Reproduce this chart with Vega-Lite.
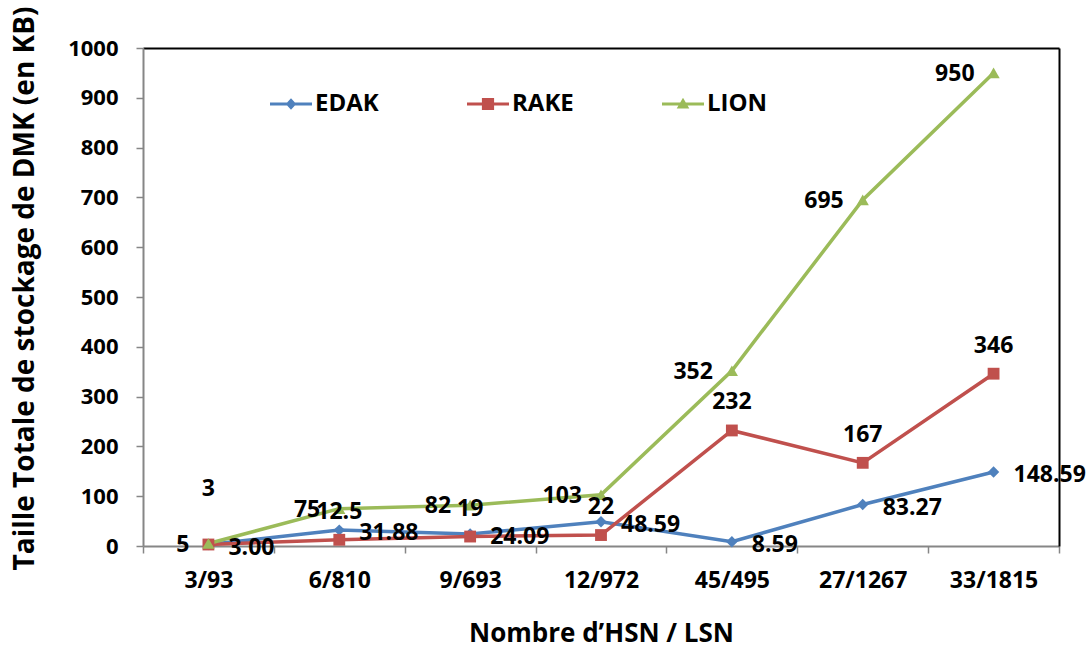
{
  "$schema": "https://vega.github.io/schema/vega-lite/v6.json",
  "width": 916,
  "height": 498,
  "autosize": {"type": "none"},
  "padding": {"left": 143, "top": 48, "right": 32, "bottom": 102},
  "background": "white",
  "config": {
    "view": {"stroke": null},
    "font": "Open Sans",
    "text": {"font": "Open Sans"}
  },
  "data": {
    "values": [
      {"hsn_lsn": "3/93", "method": "EDAK", "size_kb": 3.00},
      {"hsn_lsn": "6/810", "method": "EDAK", "size_kb": 31.88},
      {"hsn_lsn": "9/693", "method": "EDAK", "size_kb": 24.09},
      {"hsn_lsn": "12/972", "method": "EDAK", "size_kb": 48.59},
      {"hsn_lsn": "45/495", "method": "EDAK", "size_kb": 8.59},
      {"hsn_lsn": "27/1267", "method": "EDAK", "size_kb": 83.27},
      {"hsn_lsn": "33/1815", "method": "EDAK", "size_kb": 148.59},
      {"hsn_lsn": "3/93", "method": "RAKE", "size_kb": 3},
      {"hsn_lsn": "6/810", "method": "RAKE", "size_kb": 12.5},
      {"hsn_lsn": "9/693", "method": "RAKE", "size_kb": 19},
      {"hsn_lsn": "12/972", "method": "RAKE", "size_kb": 22},
      {"hsn_lsn": "45/495", "method": "RAKE", "size_kb": 232},
      {"hsn_lsn": "27/1267", "method": "RAKE", "size_kb": 167},
      {"hsn_lsn": "33/1815", "method": "RAKE", "size_kb": 346},
      {"hsn_lsn": "3/93", "method": "LION", "size_kb": 5},
      {"hsn_lsn": "6/810", "method": "LION", "size_kb": 75},
      {"hsn_lsn": "9/693", "method": "LION", "size_kb": 82},
      {"hsn_lsn": "12/972", "method": "LION", "size_kb": 103},
      {"hsn_lsn": "45/495", "method": "LION", "size_kb": 352},
      {"hsn_lsn": "27/1267", "method": "LION", "size_kb": 695},
      {"hsn_lsn": "33/1815", "method": "LION", "size_kb": 950}
    ]
  },
  "layer": [
    {
      "mark": {"type": "line", "strokeWidth": 3.5},
      "encoding": {
        "x": {
          "field": "hsn_lsn", "type": "ordinal",
          "sort": ["3/93", "6/810", "9/693", "12/972", "45/495", "27/1267", "33/1815"],
          "scale": {"type": "band", "paddingInner": 0, "paddingOuter": 0},
          "axis": {
            "orient": "bottom",
            "tickBand": "extent",
            "labelAngle": 0,
            "labelFontSize": 23,
            "labelFontWeight": "bold",
            "labelColor": "black",
            "labelPadding": 16,
            "tickSize": 7,
            "tickColor": "#868686",
            "tickWidth": 1.5,
            "domainColor": "#868686",
            "domainWidth": 2,
            "grid": false,
            "title": "Nombre d’HSN / LSN",
            "titleFontSize": 26,
            "titleFontWeight": "bold",
            "titleColor": "black",
            "titlePadding": 28
          }
        },
        "y": {
          "field": "size_kb", "type": "quantitative",
          "scale": {"domain": [0, 1000], "nice": false},
          "axis": {
            "orient": "left",
            "values": [0, 100, 200, 300, 400, 500, 600, 700, 800, 900, 1000],
            "format": "d",
            "labelFontSize": 22,
            "labelFontWeight": "bold",
            "labelColor": "black",
            "labelPadding": 18,
            "tickSize": 7,
            "tickColor": "#868686",
            "tickWidth": 1.5,
            "domainColor": "#868686",
            "domainWidth": 2,
            "grid": false,
            "title": "Taille Totale de stockage de DMK (en KB)",
            "titleFontSize": 28,
            "titleFontWeight": "bold",
            "titleColor": "black",
            "titlePadding": 28,
            "titleY": 240
          }
        },
        "color": {
          "field": "method", "type": "nominal",
          "scale": {"domain": ["EDAK", "RAKE", "LION"], "range": ["#4F81BD", "#C0504D", "#9BBB59"]},
          "legend": {
            "orient": "none",
            "legendX": 127,
            "legendY": 35,
            "direction": "horizontal",
            "title": null,
            "labelFont": "Open Sans",
            "labelFontSize": 24,
            "labelFontWeight": "bold",
            "labelColor": "black",
            "labelOffset": 3,
            "columnPadding": 88,
            "symbolSize": 1764,
            "symbolStrokeWidth": 0,
            "encode": {
              "symbols": {
                "update": {
                  "shape": {"signal": "datum.value === 'EDAK' ? 'M-1,-0.07H1V0.07H-1Z M0,-0.27L0.25,0L0,0.27L-0.25,0Z' : datum.value === 'RAKE' ? 'M-1,-0.07H1V0.07H-1Z M-0.29,-0.29H0.29V0.29H-0.29Z' : 'M-1,-0.07H1V0.07H-1Z M0,-0.3L0.3,0.22H-0.3Z'"},
                  "fill": {"signal": "scale('color', datum.value)"},
                  "stroke": {"value": "transparent"},
                  "opacity": {"value": 1}
                }
              }
            }
          }
        }
      }
    },
    {
      "transform": [{"filter": "datum.method === 'EDAK'"}],
      "mark": {"type": "point", "shape": "diamond", "filled": true, "opacity": 1, "size": 130, "color": "#4F81BD"},
      "encoding": {
        "x": {
          "field": "hsn_lsn", "type": "ordinal",
          "sort": ["3/93", "6/810", "9/693", "12/972", "45/495", "27/1267", "33/1815"],
          "axis": {"orient": "top", "labels": false, "ticks": false, "title": null, "grid": false, "domainColor": "black", "domainWidth": 2}
        },
        "y": {
          "field": "size_kb", "type": "quantitative",
          "axis": {"orient": "right", "labels": false, "ticks": false, "title": null, "grid": false, "domainColor": "black", "domainWidth": 2}
        }
      }
    },
    {
      "transform": [{"filter": "datum.method === 'RAKE'"}],
      "mark": {"type": "point", "shape": "square", "filled": true, "opacity": 1, "size": 140, "color": "#C0504D"},
      "encoding": {
        "x": {"field": "hsn_lsn", "type": "ordinal", "sort": ["3/93", "6/810", "9/693", "12/972", "45/495", "27/1267", "33/1815"], "axis": null},
        "y": {"field": "size_kb", "type": "quantitative", "axis": null}
      }
    },
    {
      "transform": [{"filter": "datum.method === 'LION'"}],
      "mark": {"type": "point", "shape": "triangle-up", "filled": true, "opacity": 1, "size": 150, "color": "#9BBB59"},
      "encoding": {
        "x": {"field": "hsn_lsn", "type": "ordinal", "sort": ["3/93", "6/810", "9/693", "12/972", "45/495", "27/1267", "33/1815"], "axis": null},
        "y": {"field": "size_kb", "type": "quantitative", "axis": null}
      }
    },
    {
      "transform": [{"filter": "datum.method === 'EDAK'"}],
      "mark": {"type": "text", "align": "left", "baseline": "middle", "dx": 20, "dy": 3, "fontSize": 23, "fontWeight": "bold", "color": "black"},
      "encoding": {
        "x": {"field": "hsn_lsn", "type": "ordinal", "sort": ["3/93", "6/810", "9/693", "12/972", "45/495", "27/1267", "33/1815"], "axis": null},
        "y": {"field": "size_kb", "type": "quantitative", "axis": null},
        "text": {"field": "size_kb", "type": "quantitative", "format": ".2f"}
      }
    },
    {
      "transform": [{"filter": "datum.method === 'RAKE' && datum.hsn_lsn !== '3/93'"}],
      "mark": {"type": "text", "align": "center", "baseline": "middle", "dy": -28, "fontSize": 23, "fontWeight": "bold", "color": "black"},
      "encoding": {
        "x": {"field": "hsn_lsn", "type": "ordinal", "sort": ["3/93", "6/810", "9/693", "12/972", "45/495", "27/1267", "33/1815"], "axis": null},
        "y": {"field": "size_kb", "type": "quantitative", "axis": null},
        "text": {"field": "size_kb", "type": "quantitative"}
      }
    },
    {
      "transform": [{"filter": "datum.method === 'RAKE' && datum.hsn_lsn === '3/93'"}],
      "mark": {"type": "text", "align": "center", "baseline": "middle", "dy": -56, "fontSize": 23, "fontWeight": "bold", "color": "black"},
      "encoding": {
        "x": {"field": "hsn_lsn", "type": "ordinal", "sort": ["3/93", "6/810", "9/693", "12/972", "45/495", "27/1267", "33/1815"], "axis": null},
        "y": {"field": "size_kb", "type": "quantitative", "axis": null},
        "text": {"field": "size_kb", "type": "quantitative"}
      }
    },
    {
      "transform": [{"filter": "datum.method === 'LION'"}],
      "mark": {"type": "text", "align": "right", "baseline": "middle", "dx": -19, "dy": 1, "fontSize": 23, "fontWeight": "bold", "color": "black"},
      "encoding": {
        "x": {"field": "hsn_lsn", "type": "ordinal", "sort": ["3/93", "6/810", "9/693", "12/972", "45/495", "27/1267", "33/1815"], "axis": null},
        "y": {"field": "size_kb", "type": "quantitative", "axis": null},
        "text": {"field": "size_kb", "type": "quantitative"}
      }
    }
  ],
  "resolve": {"axis": {"x": "independent", "y": "independent"}}
}
